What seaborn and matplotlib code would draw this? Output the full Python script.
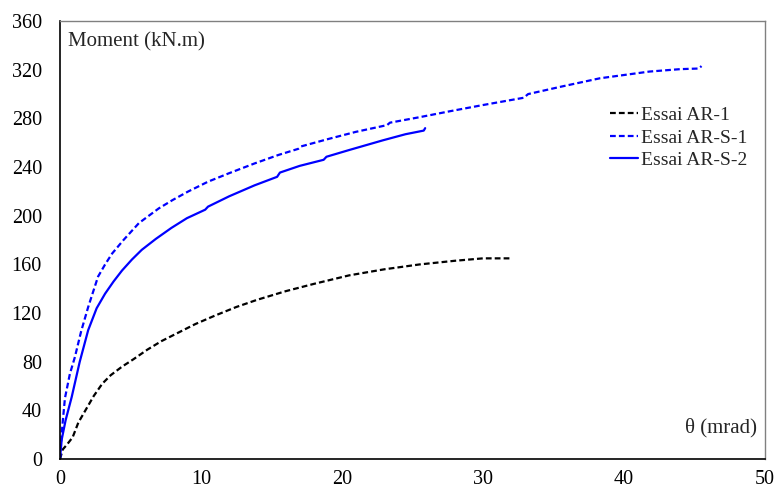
import seaborn as sns
import pandas as pd
import matplotlib.pyplot as plt

# Moment-rotation curves
ar1_theta = [0, 0.2, 0.5, 0.9, 1.3, 1.8, 2.4, 3.0, 3.6, 4.4, 5.2, 6.2, 7.2, 8.4,
             9.6, 11.0, 12.5, 14.0, 16.0, 18.0, 20.5, 23.0, 25.5, 28.0, 30.0, 32.0]
ar1_moment = [0, 8, 12, 18, 30, 40, 52, 62, 69, 76, 82, 90, 97, 104,
              111, 118, 125, 131, 138, 144, 151, 156, 160, 163, 165, 165]

ars1_theta = [0, 0.15, 0.35, 0.7, 1.06, 1.5, 2.0, 2.7, 3.2, 3.7, 4.5, 5.6, 7.0, 8.0,
              9.1, 10.5, 12.0, 13.8, 15.5, 16.9, 17.1, 19.0, 21.0, 23.2, 23.4, 25.5,
              27.7, 30.0, 32.9, 33.2, 35.5, 38.3, 41.8, 44.0, 45.3, 45.5]
ars1_moment = [0, 25, 50, 70, 84, 105, 125, 150, 160, 169, 180, 194, 206, 213,
               220, 228, 235, 243, 250, 255, 257, 263, 269, 274.5, 276.5, 281,
               286, 291, 297, 300, 306, 313, 318.5, 320.5, 321, 323]

ars2_theta = [0, 0.12, 0.4, 0.83, 1.4, 2.0, 2.6, 3.2, 3.8, 4.4, 5.1, 5.8, 6.8, 7.9,
              9.0, 10.3, 10.5, 12.0, 13.8, 15.4, 15.6, 17.0, 18.7, 18.9, 20.5, 22.9,
              24.5, 25.8, 25.9]
ars2_moment = [0, 16, 32, 51, 80, 106, 124, 136, 146, 155, 164, 172, 181, 190,
               198, 205, 207.5, 216, 225, 232, 235.5, 241, 246, 248.5, 254, 262,
               267, 270, 272]

series = [
    ("Essai AR-1", ar1_theta, ar1_moment, "black", (2.6, 1.4)),
    ("Essai AR-S-1", ars1_theta, ars1_moment, "#0000FF", (2.6, 1.4)),
    ("Essai AR-S-2", ars2_theta, ars2_moment, "#0000FF", None),
]

sns.set_style("white")
plt.rcParams["font.family"] = ["Liberation Serif", "DejaVu Serif"]

fig, ax = plt.subplots(figsize=(7.79, 4.90), dpi=100)
fig.subplots_adjust(left=0.077, right=0.982, bottom=0.063, top=0.957)

for name, xs, ys, col, dash in series:
    df = pd.DataFrame({"theta": xs, "moment": ys})
    sns.lineplot(data=df, x="theta", y="moment", ax=ax, color=col,
                 label=name, sort=False, estimator=None, linewidth=1.6)
    if dash is not None:
        ax.lines[-1].set_dashes(dash)

ax.set_xlim(0, 50)
ax.set_ylim(0, 360)
ax.set_xticks(range(0, 51, 10))
ax.set_yticks(range(0, 361, 40))
ax.tick_params(axis="both", length=0, labelsize=14.5, colors="black")
ax.tick_params(axis="y", pad=13)
ax.tick_params(axis="x", pad=8)
ax.set_xlabel("")
ax.set_ylabel("")

for side in ["left", "bottom"]:
    ax.spines[side].set_color("black")
    ax.spines[side].set_linewidth(1.2)
for side in ["top", "right"]:
    ax.spines[side].set_color("#808080")
    ax.spines[side].set_linewidth(1.0)

ax.text(0.011, 0.952, "Moment (kN.m)", transform=ax.transAxes,
        fontsize=15, ha="left", va="center")
ax.text(0.989, 0.071, "θ (mrad)", transform=ax.transAxes,
        fontsize=15, ha="right", va="center")

ax.legend(loc="upper left", bbox_to_anchor=(0.78, 0.805), frameon=False,
          fontsize=14, handlelength=1.45, handletextpad=0.15,
          borderpad=0, labelspacing=0.25, borderaxespad=0)

plt.savefig("out.png", dpi=100)
